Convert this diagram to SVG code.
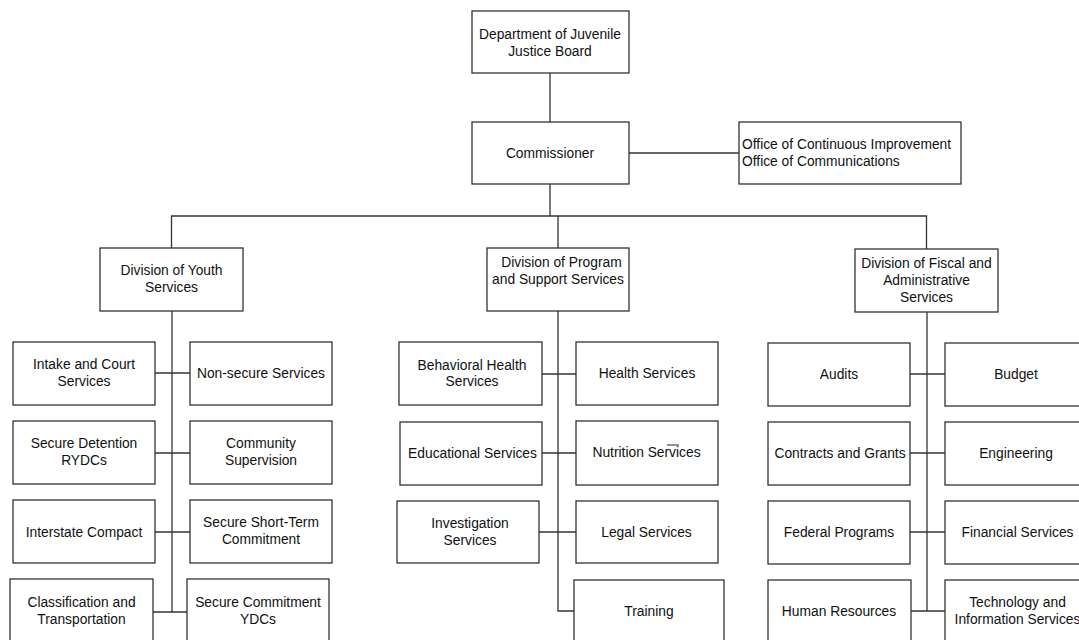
<svg xmlns="http://www.w3.org/2000/svg" width="1079" height="640" viewBox="0 0 1079 640">
<style>
rect{fill:#fff;stroke:#333;stroke-width:1.3}
.c line,.c path{stroke:#333;stroke-width:1.3;fill:none}
text{font-family:"Liberation Sans",Arial,sans-serif;font-size:13.8px;fill:#111;text-anchor:middle}
text.l{text-anchor:start}
</style>
<rect x="0" y="0" width="1079" height="640" style="stroke:none"/>
<g class="c" id="connectors">
<line x1="550" y1="73" x2="550" y2="122"/>
<line x1="629" y1="153" x2="739" y2="153"/>
<line x1="550" y1="184" x2="550" y2="216"/>
<path d="M171.5 248V216H926.5V249"/>
<line x1="558" y1="216" x2="558" y2="248"/>
<line x1="172" y1="311" x2="172" y2="612"/>
<line x1="155" y1="373" x2="190" y2="373"/>
<line x1="155" y1="453" x2="190" y2="453"/>
<line x1="155" y1="532" x2="190" y2="532"/>
<line x1="153" y1="612" x2="187" y2="612"/>
<path d="M558 311V611H574"/>
<line x1="542" y1="374" x2="576" y2="374"/>
<line x1="542" y1="453" x2="576" y2="453"/>
<line x1="539" y1="532" x2="576" y2="532"/>
<line x1="927" y1="312" x2="927" y2="611"/>
<line x1="910" y1="374" x2="945" y2="374"/>
<line x1="910" y1="453" x2="945" y2="453"/>
<line x1="910" y1="532" x2="945" y2="532"/>
<line x1="911" y1="611" x2="945" y2="611"/>
</g>
<g id="board"><rect x="472" y="11" width="157" height="62"/><text x="550" y="38.5">Department of Juvenile</text><text x="550" y="55.5">Justice Board</text></g>
<g id="commissioner"><rect x="472" y="122" width="157" height="62"/><text x="550" y="158">Commissioner</text></g>
<g id="offices"><rect x="739" y="122" width="222" height="62"/><text class="l" x="742" y="149">Office of Continuous Improvement</text><text class="l" x="742" y="166">Office of Communications</text></g>

<g id="youth"><rect x="100" y="248" width="143" height="63"/><text x="171.5" y="275">Division of Youth</text><text x="171.5" y="292">Services</text></g>
<g id="intake"><rect x="13" y="342" width="142" height="63"/><text x="84" y="369">Intake and Court</text><text x="84" y="386">Services</text></g>
<g id="nonsecure"><rect x="190" y="342" width="142" height="63"/><text x="261" y="378">Non-secure Services</text></g>
<g id="detention"><rect x="13" y="421" width="142" height="63"/><text x="84" y="448">Secure Detention</text><text x="84" y="465">RYDCs</text></g>
<g id="community"><rect x="190" y="421" width="142" height="63"/><text x="261" y="448">Community</text><text x="261" y="465">Supervision</text></g>
<g id="interstate"><rect x="13" y="500" width="142" height="63"/><text x="84" y="537">Interstate Compact</text></g>
<g id="shortterm"><rect x="190" y="500" width="142" height="63"/><text x="261" y="527">Secure Short-Term</text><text x="261" y="544">Commitment</text></g>
<g id="classification"><rect x="10" y="579" width="143" height="70"/><text x="81.5" y="607">Classification and</text><text x="81.5" y="624">Transportation</text></g>
<g id="ydcs"><rect x="187" y="579" width="142" height="70"/><text x="258" y="607">Secure Commitment</text><text x="258" y="624">YDCs</text></g>

<g id="program"><rect x="487" y="248" width="142" height="63"/><text x="561.5" y="267">Division of Program</text><text x="558" y="284">and Support Services</text></g>
<g id="behavioral"><rect x="399" y="342" width="143" height="63"/><text x="472" y="370">Behavioral Health</text><text x="472" y="386">Services</text></g>
<g id="health"><rect x="576" y="342" width="142" height="63"/><text x="647" y="378">Health Services</text></g>
<g id="educational"><rect x="400" y="422" width="142" height="63"/><text x="472.5" y="458">Educational Services</text></g>
<g id="nutrition"><rect x="576" y="421" width="142" height="64"/><text x="646.5" y="457">Nutrition Services</text><line x1="667" y1="445" x2="679" y2="445" style="stroke:#222;stroke-width:1"/></g>
<g id="investigation"><rect x="397" y="501" width="142" height="62"/><text x="470" y="528">Investigation</text><text x="470" y="545">Services</text></g>
<g id="legal"><rect x="576" y="501" width="142" height="62"/><text x="646.5" y="537">Legal Services</text></g>
<g id="training"><rect x="574" y="580" width="150" height="70"/><text x="649" y="616">Training</text></g>

<g id="fiscal"><rect x="855" y="249" width="143" height="63"/><text x="926.5" y="268">Division of Fiscal and</text><text x="926.5" y="285">Administrative</text><text x="926.5" y="302">Services</text></g>
<g id="audits"><rect x="768" y="343" width="142" height="63"/><text x="839" y="379">Audits</text></g>
<g id="budget"><rect x="945" y="343" width="142" height="63"/><text x="1016" y="379">Budget</text></g>
<g id="contracts"><rect x="768" y="422" width="142" height="63"/><text x="840" y="458">Contracts and Grants</text></g>
<g id="engineering"><rect x="945" y="422" width="142" height="63"/><text x="1016" y="458">Engineering</text></g>
<g id="federal"><rect x="768" y="501" width="142" height="63"/><text x="839" y="537">Federal Programs</text></g>
<g id="financial"><rect x="945" y="501" width="142" height="63"/><text x="1017.5" y="537">Financial Services</text></g>
<g id="hr"><rect x="768" y="580" width="143" height="70"/><text x="839" y="616">Human Resources</text></g>
<g id="technology"><rect x="945" y="580" width="142" height="70"/><text x="1017.5" y="607">Technology and</text><text x="1017.5" y="624">Information Services</text></g>
</svg>
